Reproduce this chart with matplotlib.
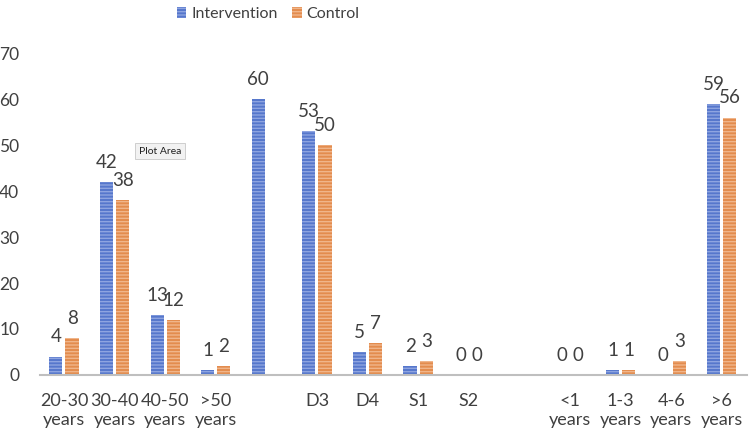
import numpy as np
import matplotlib.pyplot as plt

plt.rcParams['font.family'] = ['Lato', 'DejaVu Sans']

categories = ["20-30\nyears", "30-40\nyears", "40-50\nyears", ">50\nyears", "",
              "D3", "D4", "S1", "S2", "",
              "<1\nyears", "1-3\nyears", "4-6\nyears", ">6\nyears"]
intervention = [4, 42, 13, 1, 60, 53, 5, 2, 0, None, 0, 1, 0, 59]
control = [8, 38, 12, 2, None, 50, 7, 3, 0, None, 0, 1, 3, 56]

text_color = "#404040"
blue = "#5677CC"
blue_hatch = "#8EA4E0"
orange = "#E38C4E"
orange_hatch = "#F0B58A"


def main():
    fig = plt.figure(figsize=(7.49, 4.36), dpi=100)
    ax = fig.add_axes([0.0534, 0.140, 0.944, 0.738])

    x = np.arange(len(categories))
    w = 0.26
    off = 0.16

    def draw(vals, dx, face, hatch, label):
        xs = [xi + dx for xi, v in zip(x, vals) if v is not None]
        vs = [v for v in vals if v is not None]
        bars = ax.bar(xs, vs, w, color=face, edgecolor=hatch, linewidth=0,
                      hatch="-----", label=label)
        for xi, v in zip(xs, vs):
            ax.annotate(str(v), (xi, v), xytext=(0, 8), textcoords="offset points",
                        ha="center", va="bottom", fontsize=13.5, color=text_color)
        return bars

    draw(intervention, -off, blue, blue_hatch, "Intervention")
    draw(control, off, orange, orange_hatch, "Control")

    ax.set_xlim(-0.474, 13.5)
    ax.set_ylim(0, 70)
    ax.set_yticks(range(0, 71, 10))
    ax.set_xticks(x)
    ax.set_xticklabels(categories, fontsize=13, color=text_color, linespacing=1.2)
    ax.tick_params(axis="y", length=0, pad=15, labelsize=12.5, labelcolor=text_color)
    ax.tick_params(axis="x", length=0, pad=13)

    for side in ["top", "right", "left"]:
        ax.spines[side].set_visible(False)
    ax.spines["bottom"].set_color("#BFBFBF")
    ax.spines["bottom"].set_linewidth(1.5)

    leg = fig.legend(loc="upper center", bbox_to_anchor=(0.358, 1.017), ncol=2,
                     frameon=False, fontsize=11.5, handlelength=0.6, handleheight=0.7,
                     handletextpad=0.3, columnspacing=0.9)
    for t in leg.get_texts():
        t.set_color(text_color)

    # tooltip left in the screenshot
    fig.text(160 / 749, 1 - 151 / 436, "Plot Area", fontsize=7.5, color="#202020",
             ha="center", va="center",
             bbox=dict(boxstyle="square,pad=0.35", facecolor="#F2F2F2",
                       edgecolor="#C8C8C8", linewidth=0.6))

    fig.savefig("out.png", dpi=100)


if __name__ == "__main__":
    main()
